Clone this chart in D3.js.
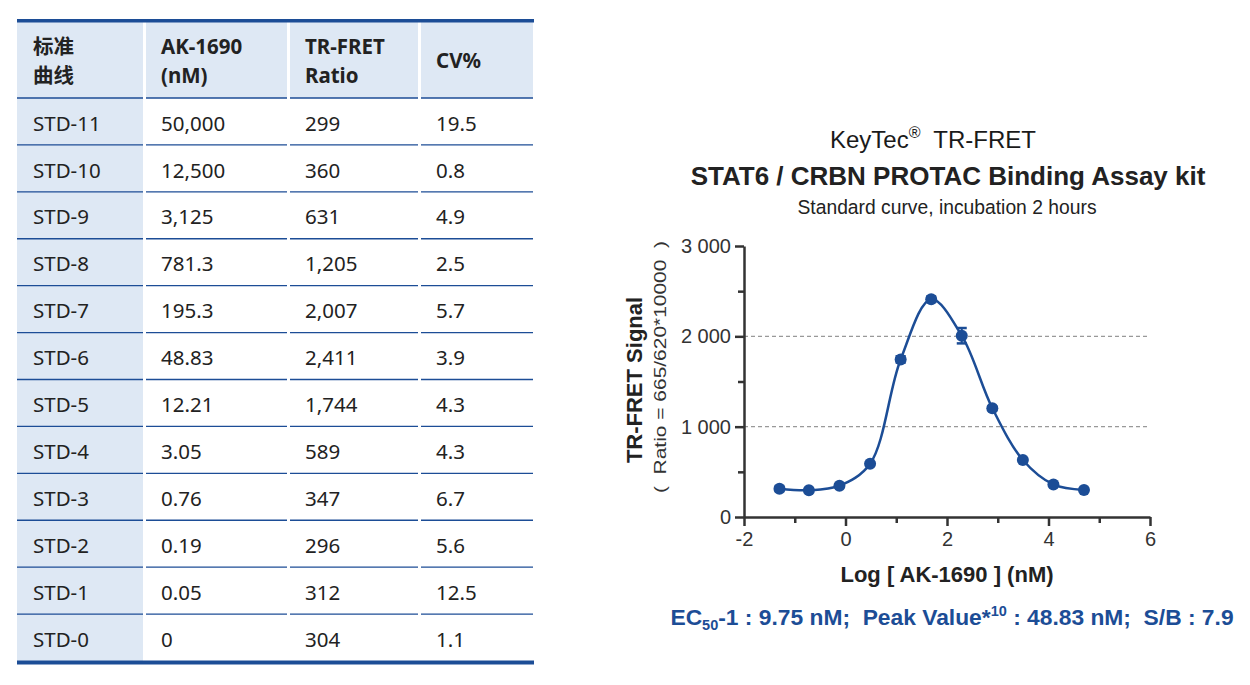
<!DOCTYPE html>
<html>
<head>
<meta charset="utf-8">
<script src="https://cdn.jsdelivr.net/npm/d3@7"></script>
<style>
  body { margin: 0; background: #fff; }
  svg { display: block; }
</style>
</head>
<body>
<svg id="chart" width="1250" height="685"></svg>
<script>
// table data
let headers = [["标准", "曲线"], ["AK-1690", "(nM)"], ["TR-FRET", "Ratio"], ["CV%"]]
let stdLabels = ["STD-11", "STD-10", "STD-9", "STD-8", "STD-7", "STD-6", "STD-5", "STD-4", "STD-3", "STD-2", "STD-1", "STD-0"]
let concLabels = ["50,000", "12,500", "3,125", "781.3", "195.3", "48.83", "12.21", "3.05", "0.76", "0.19", "0.05", "0"]
let ratioValues = [299, 360, 631, 1205, 2007, 2411, 1744, 589, 347, 296, 312, 304]
let cvValues = ["19.5", "0.8", "4.9", "2.5", "5.7", "3.9", "4.3", "4.3", "6.7", "5.6", "12.5", "1.1"]
// error bar half-heights (only STD-7 shows outside its marker)
let errValues = [20, 5, 20, 20, 85, 30, 35, 15, 15, 10, 25, 0]

// chart ticks
let xTicks = [-2, 0, 2, 4, 6]
let xMinor = [-1, 1, 3, 5]
let yTicks = [0, 1000, 2000, 3000]
let yMinor = [500, 1500, 2500]
let gridValues = [1000, 2000]

let blue = "#1c4d96"
let lightBlue = "#dee8f4"
let ink = "#333"

let svg = d3.select("#chart")

// ---------- table ----------
let colX = [17, 145, 289, 420]
let colW = [127, 143, 130, 114]
let headTop = 22, headBottom = 98
let rowH = (661 - headBottom) / stdLabels.length
let pad = 16

let table = svg.append("g")

table.selectAll("rect.head")
    .data(colX)
    .join("rect")
    .attr("x", (d, i) => d + (i > 0 ? 1 : 0))
    .attr("y", headTop)
    .attr("width", (d, i) => colW[i] - (i > 0 ? 1 : 0) - 1)
    .attr("height", headBottom - headTop)
    .attr("fill", lightBlue)

table.append("rect")
    .attr("x", colX[0])
    .attr("y", headBottom)
    .attr("width", colW[0] - 1)
    .attr("height", rowH * stdLabels.length)
    .attr("fill", lightBlue)

headers.forEach((h, i) => {
    let t = table.append("text")
        .attr("x", colX[i] + pad)
        .attr("font-family", "'Noto Sans', 'Noto Sans CJK SC', sans-serif")
        .attr("font-size", 20.5)
        .attr("font-weight", "bold")
        .attr("fill", "#222")
    if (h.length === 1) {
        t.attr("y", (headTop + headBottom) / 2 + 1).attr("dy", "0.35em").text(h[0])
    } else {
        t.selectAll("tspan")
            .data(h)
            .join("tspan")
            .attr("x", colX[i] + pad)
            .attr("y", (d, j) => 47 + j * 29)
            .attr("dy", "0.35em")
            .text(d => d)
    }
})

let rows = stdLabels.map((s, i) => [s, concLabels[i], d3.format(",")(ratioValues[i]), cvValues[i]])

rows.forEach((r, i) => {
    let top = headBottom + i * rowH
    table.selectAll(null)
        .data(r)
        .join("text")
        .attr("x", (d, j) => colX[j] + pad)
        .attr("y", top + rowH / 2 + 2)
        .attr("dy", "0.35em")
        .attr("font-family", "'Noto Sans', sans-serif")
        .attr("font-size", 20.5)
        .attr("fill", "#222")
        .text(d => d)
})

d3.range(stdLabels.length).forEach(i => {
    let yy = headBottom + i * rowH
    table.selectAll(null)
        .data(colX)
        .join("line")
        .attr("x1", (d, j) => d + (j > 0 ? 1 : 0))
        .attr("x2", (d, j) => d + colW[j] - 1)
        .attr("y1", yy)
        .attr("y2", yy)
        .attr("stroke", blue)
        .attr("stroke-width", 1.3)
})

table.append("rect").attr("x", 17).attr("y", 19).attr("width", 517).attr("height", 3.5).attr("fill", blue)
table.append("rect").attr("x", 17).attr("y", 660.5).attr("width", 517).attr("height", 4).attr("fill", blue)

// ---------- chart ----------
let x = d3.scaleLinear().domain([-2, 6]).range([744, 1150])
let y = d3.scaleLinear().domain([0, 3000]).range([517, 246])

let points = concLabels
    .map((c, i) => ({ conc: +c.replace(/,/g, ""), val: ratioValues[i], sd: errValues[i] }))
    .filter(d => d.conc > 0)
    .map(d => ({ lx: Math.log10(d.conc), val: d.val, sd: d.sd }))
    .sort((a, b) => a.lx - b.lx)

let chart = svg.append("g").attr("font-family", "'Liberation Sans', Arial, sans-serif")

chart.selectAll("line.grid")
    .data(gridValues)
    .join("line")
    .attr("x1", x(-2))
    .attr("x2", x(6))
    .attr("y1", d => y(d))
    .attr("y2", d => y(d))
    .attr("stroke", "#999")
    .attr("stroke-width", 1.3)
    .attr("stroke-dasharray", "4,3")

let fmtY = d => d3.format(",")(d).replace(/,/g, " ")

chart.append("g")
    .attr("transform", `translate(0,${y(0)})`)
    .call(d3.axisBottom(x).tickValues(xTicks).tickSizeInner(9).tickSizeOuter(0).tickPadding(6).tickFormat(d => String(d)))
chart.append("g")
    .attr("transform", `translate(0,${y(0)})`)
    .call(d3.axisBottom(x).tickValues(xMinor).tickSizeInner(6).tickSizeOuter(0).tickFormat(""))
    .call(g => g.select(".domain").remove())

chart.append("g")
    .attr("transform", `translate(${x(-2)},0)`)
    .call(d3.axisLeft(y).tickValues(yTicks).tickSizeInner(9).tickSizeOuter(0).tickPadding(4).tickFormat(fmtY))
chart.append("g")
    .attr("transform", `translate(${x(-2)},0)`)
    .call(d3.axisLeft(y).tickValues(yMinor).tickSizeInner(6).tickSizeOuter(0).tickFormat(""))
    .call(g => g.select(".domain").remove())

chart.selectAll(".domain, .tick line")
    .attr("stroke", ink)
    .attr("stroke-width", 2.5)
chart.selectAll(".tick text")
    .attr("font-family", "'Liberation Sans', Arial, sans-serif")
    .attr("font-size", 20)
    .attr("fill", ink)

let line = d3.line()
    .x(d => x(d.lx))
    .y(d => y(d.val))
    .curve(d3.curveCatmullRom.alpha(0.5))

chart.append("path")
    .datum(points)
    .attr("d", line)
    .attr("fill", "none")
    .attr("stroke", blue)
    .attr("stroke-width", 2.5)

let eb = chart.selectAll("g.eb")
    .data(points)
    .join("g")
eb.append("line")
    .attr("x1", d => x(d.lx)).attr("x2", d => x(d.lx))
    .attr("y1", d => y(d.val - d.sd)).attr("y2", d => y(d.val + d.sd))
    .attr("stroke", blue).attr("stroke-width", 2)
eb.selectAll("line.cap")
    .data(d => [d.val - d.sd, d.val + d.sd].map(v => ({ lx: d.lx, v })))
    .join("line")
    .attr("x1", d => x(d.lx) - 5).attr("x2", d => x(d.lx) + 5)
    .attr("y1", d => y(d.v)).attr("y2", d => y(d.v))
    .attr("stroke", blue).attr("stroke-width", 2.5)

chart.selectAll("circle")
    .data(points)
    .join("circle")
    .attr("cx", d => x(d.lx))
    .attr("cy", d => y(d.val))
    .attr("r", 6)
    .attr("fill", blue)

// titles
let title = chart.append("text")
    .attr("x", 933).attr("y", 148)
    .attr("text-anchor", "middle")
    .attr("font-size", 24)
    .attr("fill", "#1a1a1a")
    .style("white-space", "pre")
title.append("tspan").text("KeyTec")
title.append("tspan").attr("font-size", 16).attr("dy", -10).text("®")
title.append("tspan").attr("dy", 10).text("  TR-FRET")

chart.append("text")
    .attr("x", 948).attr("y", 185)
    .attr("text-anchor", "middle")
    .attr("font-size", 26)
    .attr("font-weight", "bold")
    .attr("fill", "#222")
    .text("STAT6 / CRBN PROTAC Binding Assay kit")

chart.append("text")
    .attr("x", 947).attr("y", 214)
    .attr("text-anchor", "middle")
    .attr("font-size", 19.3)
    .attr("fill", "#222")
    .text("Standard curve, incubation 2 hours")

// axis titles
chart.append("text")
    .attr("transform", "translate(642,380) rotate(-90)")
    .attr("text-anchor", "middle")
    .attr("font-size", 22)
    .attr("font-weight", "bold")
    .attr("fill", "#222")
    .text("TR-FRET Signal")

chart.append("text")
    .attr("transform", "translate(666,367) rotate(-90)")
    .attr("text-anchor", "middle")
    .attr("font-size", 16)
    .attr("textLength", 252)
    .attr("lengthAdjust", "spacingAndGlyphs")
    .attr("fill", "#333")
    .style("white-space", "pre")
    .text("(  Ratio = 665/620*10000  )")

chart.append("text")
    .attr("x", 947).attr("y", 582)
    .attr("text-anchor", "middle")
    .attr("font-size", 22)
    .attr("font-weight", "bold")
    .attr("fill", "#222")
    .text("Log [ AK-1690 ] (nM)")

// footer
let foot = chart.append("text")
    .attr("x", 952).attr("y", 625)
    .attr("text-anchor", "middle")
    .attr("font-size", 22.8)
    .attr("font-weight", "bold")
    .attr("fill", blue)
    .style("white-space", "pre")
foot.append("tspan").text("EC")
foot.append("tspan").attr("font-size", 14.5).attr("dy", 5).text("50")
foot.append("tspan").attr("dy", -5).text("-1 : 9.75 nM;  Peak Value*")
foot.append("tspan").attr("font-size", 14.5).attr("dy", -9).text("10")
foot.append("tspan").attr("dy", 9).text(" : 48.83 nM;  S/B : 7.9")
</script>
</body>
</html>
